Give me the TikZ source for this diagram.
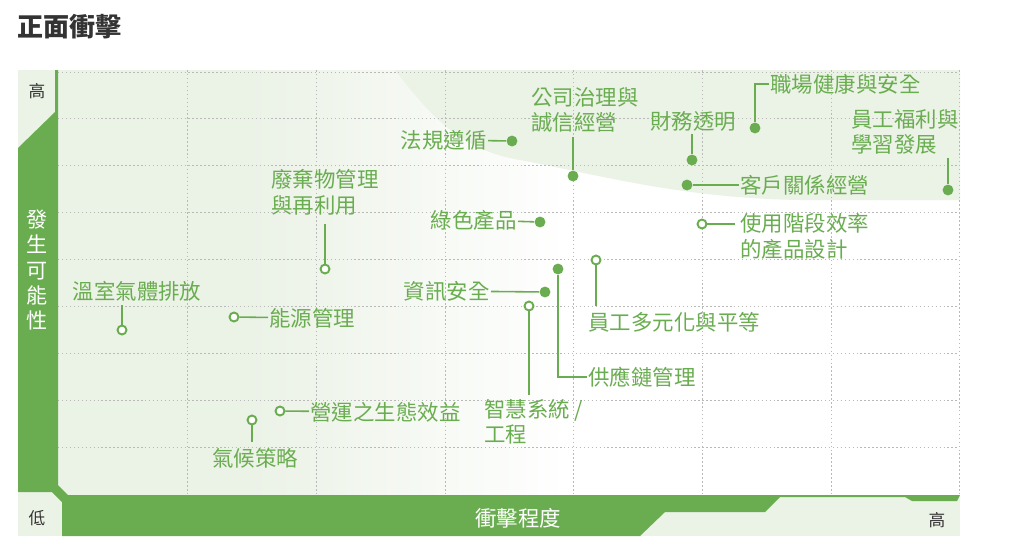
\documentclass[tikz,border=0pt]{standalone}
\usepackage{fontspec}
\setmainfont{Noto Sans CJK TC}
\definecolor{gr}{HTML}{6AAD50}
\definecolor{lg}{HTML}{EBF2E6}
\definecolor{tx}{HTML}{333333}
\tikzset{
 dotf/.style={circle,fill=gr,inner sep=0pt,minimum size=6.2pt},
 doth/.style={circle,fill=white,draw=gr,line width=1.1pt,inner sep=0pt,minimum size=5.1pt},
 lab/.style={text=gr,font=\fontsize{12.2}{14.5}\selectfont,inner sep=0.6pt,align=left},
 con/.style={draw=gr,line width=0.9pt},
 grid line/.style={draw=gray!55,dash pattern=on 0.85pt off 1.4pt,line width=0.4pt},
}
\begin{document}
\begin{tikzpicture}[x=0.02cm,y=-0.02cm]
\useasboundingbox (0,0) rectangle (1021,549);
\node[anchor=west,inner sep=0,font=\bfseries\fontsize{14.8}{16}\selectfont,text=tx] (title) at (17,27) {正面衝擊};
% panel
\fill[lg] (18,70) rectangle (960,536);
\fill[white] (58,70) rectangle (960,495);
\fill[lg] (58,70) rectangle (250,495);
\shade[left color=lg,right color=white] (249,70) rectangle (570,495);
\fill[lg] (395,70) .. controls (430,115) and (460,150) .. (520,160)
  .. controls (600,175) and (680,198) .. (800,200) -- (960,200) -- (960,70) -- cycle;
% grid
\foreach \x in {187,316,445,573,702,831,959} \draw[grid line] (\x,70) -- (\x,495);
\foreach \y in {72,118,165,212,259,306,353,400,447} \draw[grid line] (58,\y) -- (959,\y);
% axis band
\fill[gr] (18,148) -- (55,112) -- (55,70) -- (58,70) -- (58,485) -- (68,495) -- (960,495)
 -- (957,501) -- (912,501) -- (905,497) -- (780,497) -- (765,512) -- (665,512) -- (640,536)
 -- (62,536) -- (62,502) -- (52,492) -- (18,492) -- cycle;
\node[text=white,font=\fontsize{12}{14.5}\selectfont,align=center] (ya) at (37,270) {發\\生\\可\\能\\性};
\node[text=white,font=\fontsize{12.2}{14}\selectfont] (xa) at (518,518) {衝擊程度};
\node[text=tx,font=\fontsize{9.5}{11}\selectfont] (hi1) at (37,91) {高};
\node[text=tx,font=\fontsize{9.5}{11}\selectfont] (lo) at (37,518) {低};
\node[text=tx,font=\fontsize{9.5}{11}\selectfont] (hi2) at (937,520) {高};
% items
\node[dotf] (d1) at (512,141) {};
\node[lab,anchor=east] (l1) at (488,140) {法規遵循};
\draw[con] (l1) -- (d1);

\node[dotf] (d2) at (573,176) {};
\node[lab,anchor=south] (l2) at (585,134) {公司治理與\\誠信經營};
\draw[con] (573,137) -- (d2);

\node[dotf] (d3) at (692,160) {};
\node[lab] (l3) at (693,121) {財務透明};
\draw[con] (692,134) -- (d3);

\node[dotf] (d4) at (755,128) {};
\node[lab,anchor=west] (l4) at (769,84) {職場健康與安全};
\draw[con] (l4.west) -- (755,84) -- (d4);

\node[dotf] (d5) at (948,190) {};
\node[lab,anchor=north west] (l5) at (850,108) {員工福利與\\學習發展};
\draw[con] (948,158) -- (d5);

\node[dotf] (d6) at (687,185) {};
\node[lab,anchor=west] (l6) at (739,185) {客戶關係經營};
\draw[con] (d6) -- (l6);

\node[doth] (d7) at (702,224) {};
\node[lab,anchor=north west] (l7) at (739,212) {使用階段效率\\的產品設計};
\draw[con] (d7) -- (735,224);

\node[dotf] (d8) at (540,222) {};
\node[lab,anchor=east] (l8) at (518,220) {綠色產品};
\draw[con] (l8) -- (d8);

\node[doth] (d9) at (325,269) {};
\node[lab,anchor=north west] (l9) at (270,168) {廢棄物管理\\與再利用};
\draw[con] (325,224) -- (d9);

\node[doth] (d10) at (122,330) {};
\node[lab] (l10) at (137,291) {溫室氣體排放};
\draw[con] (122,305) -- (d10);

\node[doth] (d11) at (234,317) {};
\node[lab,anchor=west] (l11) at (268,318) {能源管理};
\draw[con] (d11) -- (l11);

\node[dotf] (d12) at (545,292) {};
\node[lab,anchor=east] (l12) at (491,291) {資訊安全};
\draw[con] (l12) -- (d12);

\node[dotf] (d13) at (558,269) {};
\node[lab,anchor=west] (l13) at (587,377) {供應鏈管理};
\draw[con] (d13) -- (558,377) -- (l13);

\node[doth] (d14) at (596,260) {};
\node[lab,anchor=west] (l14) at (587,322) {員工多元化與平等};
\draw[con] (d14) -- (596,306);

\node[doth] (d15) at (529,306) {};
\node[lab,anchor=north west] (l15) at (483,398) {智慧系統 /\\工程};
\draw[con] (d15) -- (529,395);

\node[doth] (d16) at (280,411) {};
\node[lab,anchor=west] (l16) at (309,412) {營運之生態效益};
\draw[con] (d16) -- (l16);

\node[doth] (d17) at (252,420) {};
\node[lab] (l17) at (255,458) {氣候策略};
\draw[con] (d17) -- (252,442);
\end{tikzpicture}
\end{document}
